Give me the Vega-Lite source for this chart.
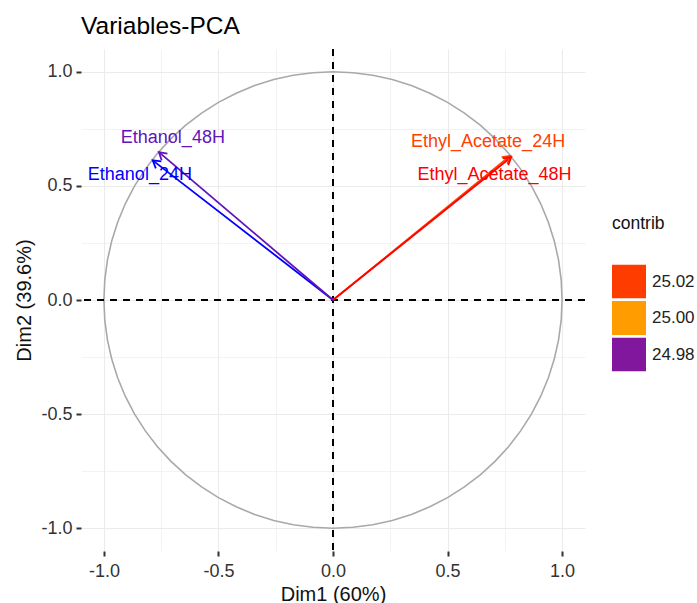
{
  "$schema": "https://vega.github.io/schema/vega-lite/v6.json",
  "width": 504,
  "height": 502,
  "autosize": {"type": "none"},
  "padding": {"left": 81, "top": 49, "right": 112, "bottom": 52},
  "background": "white",
  "config": {"font": "Liberation Sans", "view": {"stroke": null}},
  "title": {"text": "Variables-PCA", "anchor": "start", "frame": "group", "fontSize": 24.5, "fontWeight": "normal", "color": "#000000", "offset": 9},
  "datasets": {
    "vars": [
      {"name": "Ethanol_24H", "x": -0.787, "y": 0.612, "contrib": 24.962, "lx": -0.843, "ly": 0.548},
      {"name": "Ethanol_48H", "x": -0.760, "y": 0.648, "contrib": 24.975, "lx": -0.699, "ly": 0.711},
      {"name": "Ethyl_Acetate_24H", "x": 0.774, "y": 0.632, "contrib": 25.019, "lx": 0.677, "ly": 0.693},
      {"name": "Ethyl_Acetate_48H", "x": 0.778, "y": 0.626, "contrib": 25.044, "lx": 0.705, "ly": 0.550}
    ],
    "circle": [
      {"i": 0, "cx": 1, "cy": 0}, {"i": 5, "cx": 0.99619, "cy": 0.08716}, {"i": 10, "cx": 0.98481, "cy": 0.17365},
      {"i": 15, "cx": 0.96593, "cy": 0.25882}, {"i": 20, "cx": 0.93969, "cy": 0.34202}, {"i": 25, "cx": 0.90631, "cy": 0.42262},
      {"i": 30, "cx": 0.86603, "cy": 0.5}, {"i": 35, "cx": 0.81915, "cy": 0.57358}, {"i": 40, "cx": 0.76604, "cy": 0.64279},
      {"i": 45, "cx": 0.70711, "cy": 0.70711}, {"i": 50, "cx": 0.64279, "cy": 0.76604}, {"i": 55, "cx": 0.57358, "cy": 0.81915},
      {"i": 60, "cx": 0.5, "cy": 0.86603}, {"i": 65, "cx": 0.42262, "cy": 0.90631}, {"i": 70, "cx": 0.34202, "cy": 0.93969},
      {"i": 75, "cx": 0.25882, "cy": 0.96593}, {"i": 80, "cx": 0.17365, "cy": 0.98481}, {"i": 85, "cx": 0.08716, "cy": 0.99619},
      {"i": 90, "cx": 0, "cy": 1}, {"i": 95, "cx": -0.08716, "cy": 0.99619}, {"i": 100, "cx": -0.17365, "cy": 0.98481},
      {"i": 105, "cx": -0.25882, "cy": 0.96593}, {"i": 110, "cx": -0.34202, "cy": 0.93969}, {"i": 115, "cx": -0.42262, "cy": 0.90631},
      {"i": 120, "cx": -0.5, "cy": 0.86603}, {"i": 125, "cx": -0.57358, "cy": 0.81915}, {"i": 130, "cx": -0.64279, "cy": 0.76604},
      {"i": 135, "cx": -0.70711, "cy": 0.70711}, {"i": 140, "cx": -0.76604, "cy": 0.64279}, {"i": 145, "cx": -0.81915, "cy": 0.57358},
      {"i": 150, "cx": -0.86603, "cy": 0.5}, {"i": 155, "cx": -0.90631, "cy": 0.42262}, {"i": 160, "cx": -0.93969, "cy": 0.34202},
      {"i": 165, "cx": -0.96593, "cy": 0.25882}, {"i": 170, "cx": -0.98481, "cy": 0.17365}, {"i": 175, "cx": -0.99619, "cy": 0.08716},
      {"i": 180, "cx": -1, "cy": 0}, {"i": 185, "cx": -0.99619, "cy": -0.08716}, {"i": 190, "cx": -0.98481, "cy": -0.17365},
      {"i": 195, "cx": -0.96593, "cy": -0.25882}, {"i": 200, "cx": -0.93969, "cy": -0.34202}, {"i": 205, "cx": -0.90631, "cy": -0.42262},
      {"i": 210, "cx": -0.86603, "cy": -0.5}, {"i": 215, "cx": -0.81915, "cy": -0.57358}, {"i": 220, "cx": -0.76604, "cy": -0.64279},
      {"i": 225, "cx": -0.70711, "cy": -0.70711}, {"i": 230, "cx": -0.64279, "cy": -0.76604}, {"i": 235, "cx": -0.57358, "cy": -0.81915},
      {"i": 240, "cx": -0.5, "cy": -0.86603}, {"i": 245, "cx": -0.42262, "cy": -0.90631}, {"i": 250, "cx": -0.34202, "cy": -0.93969},
      {"i": 255, "cx": -0.25882, "cy": -0.96593}, {"i": 260, "cx": -0.17365, "cy": -0.98481}, {"i": 265, "cx": -0.08716, "cy": -0.99619},
      {"i": 270, "cx": 0, "cy": -1}, {"i": 275, "cx": 0.08716, "cy": -0.99619}, {"i": 280, "cx": 0.17365, "cy": -0.98481},
      {"i": 285, "cx": 0.25882, "cy": -0.96593}, {"i": 290, "cx": 0.34202, "cy": -0.93969}, {"i": 295, "cx": 0.42262, "cy": -0.90631},
      {"i": 300, "cx": 0.5, "cy": -0.86603}, {"i": 305, "cx": 0.57358, "cy": -0.81915}, {"i": 310, "cx": 0.64279, "cy": -0.76604},
      {"i": 315, "cx": 0.70711, "cy": -0.70711}, {"i": 320, "cx": 0.76604, "cy": -0.64279}, {"i": 325, "cx": 0.81915, "cy": -0.57358},
      {"i": 330, "cx": 0.86603, "cy": -0.5}, {"i": 335, "cx": 0.90631, "cy": -0.42262}, {"i": 340, "cx": 0.93969, "cy": -0.34202},
      {"i": 345, "cx": 0.96593, "cy": -0.25882}, {"i": 350, "cx": 0.98481, "cy": -0.17365}, {"i": 355, "cx": 0.99619, "cy": -0.08716},
      {"i": 360, "cx": 1, "cy": 0}
    ]
  },
  "layer": [
    {
      "data": {"name": "circle"},
      "mark": {"type": "line", "color": "#a9a9a9", "strokeWidth": 1.6},
      "encoding": {
        "x": {
          "field": "cx", "type": "quantitative", "title": "Dim1 (60%)",
          "scale": {"domain": [-1.1, 1.1], "nice": false, "zero": false},
          "axis": {
            "values": [-1, -0.75, -0.5, -0.25, 0, 0.25, 0.5, 0.75, 1],
            "format": ".1f",
            "labelExpr": "abs(datum.value % 0.5) < 0.001 ? replace(datum.label, '\u2212', '-') : ''",
            "titleFontSize": 20, "titleFontWeight": "normal", "titleColor": "#111111", "titlePadding": 4,
            "labelFontSize": 18, "labelColor": "#333333", "labelPadding": 6, "labelFlush": false, "labelOverlap": false,
            "tickSize": 5, "tickWidth": 2, "tickColor": "#333333",
            "tickOpacity": {"condition": {"test": "abs(datum.value % 0.5) < 0.001", "value": 1}, "value": 0},
            "grid": true, "gridColor": "#ebebeb",
            "gridWidth": {"condition": {"test": "abs(datum.value % 0.5) < 0.001", "value": 1.1}, "value": 0.6},
            "domain": false
          }
        },
        "y": {
          "field": "cy", "type": "quantitative", "title": "Dim2 (39.6%)",
          "scale": {"domain": [-1.1, 1.1], "nice": false, "zero": false},
          "axis": {
            "values": [-1, -0.75, -0.5, -0.25, 0, 0.25, 0.5, 0.75, 1],
            "format": ".1f",
            "labelExpr": "abs(datum.value % 0.5) < 0.001 ? replace(datum.label, '\u2212', '-') : ''",
            "titleFontSize": 20, "titleFontWeight": "normal", "titleColor": "#111111", "titlePadding": 6,
            "labelFontSize": 18, "labelColor": "#333333", "labelPadding": 4, "labelFlush": false, "labelOverlap": false,
            "tickSize": 5, "tickWidth": 2, "tickColor": "#333333",
            "tickOpacity": {"condition": {"test": "abs(datum.value % 0.5) < 0.001", "value": 1}, "value": 0},
            "grid": true, "gridColor": "#ebebeb",
            "gridWidth": {"condition": {"test": "abs(datum.value % 0.5) < 0.001", "value": 1.1}, "value": 0.6},
            "domain": false
          }
        },
        "order": {"field": "i", "type": "quantitative"}
      }
    },
    {
      "data": {"values": [{}]},
      "mark": {"type": "rule", "color": "#000000", "strokeWidth": 2, "strokeDash": [7, 6]},
      "encoding": {"y": {"datum": 0, "type": "quantitative", "title": "Dim2 (39.6%)"}}
    },
    {
      "data": {"values": [{}]},
      "mark": {"type": "rule", "color": "#000000", "strokeWidth": 2, "strokeDash": [7, 6]},
      "encoding": {"x": {"datum": 0, "type": "quantitative", "title": "Dim1 (60%)"}}
    },
    {
      "data": {"name": "vars"},
      "mark": {"type": "rule", "strokeWidth": 1.8},
      "encoding": {
        "x": {"field": "x", "type": "quantitative", "title": "Dim1 (60%)"},
        "y": {"field": "y", "type": "quantitative", "title": "Dim2 (39.6%)"},
        "x2": {"datum": 0},
        "y2": {"datum": 0},
        "color": {
          "field": "contrib", "type": "quantitative", "title": "contrib",
          "scale": {
            "domain": [24.962, 25.044],
            "range": ["#0000ff", "#3a0ce0", "#7015b0", "#9a1a80", "#c8303c", "#ffa000", "#ff7800", "#ff5200", "#ff3600", "#ff1c00", "#ff0c00", "#ff0000"],
            "interpolate": "rgb"
          },
          "legend": {
            "type": "symbol", "orient": "none", "legendX": 531, "legendY": 166,
            "values": [25.02, 25.0, 24.98], "format": ".2f",
            "symbolType": "square", "symbolSize": 289, "symbolStrokeWidth": 17, "symbolOpacity": 1,
            "clipHeight": 34, "rowPadding": 2.5, "labelOffset": 6,
            "labelFontSize": 17, "labelColor": "#222222",
            "titleFontSize": 17.5, "titleFontWeight": "normal", "titleColor": "#111111", "titlePadding": 32
          }
        }
      }
    },
    {
      "data": {"name": "vars"},
      "transform": [{"calculate": "-atan2(datum.y, datum.x) * 180 / PI", "as": "ang"}],
      "mark": {"type": "point", "shape": "M-1,-0.6L0,0L-1,0.6", "filled": false, "strokeWidth": 1.8, "size": 220, "opacity": 1},
      "encoding": {
        "x": {"field": "x", "type": "quantitative", "title": "Dim1 (60%)"},
        "y": {"field": "y", "type": "quantitative", "title": "Dim2 (39.6%)"},
        "angle": {"field": "ang", "type": "quantitative", "scale": null},
        "color": {"field": "contrib", "type": "quantitative", "title": "contrib", "legend": null}
      }
    },
    {
      "data": {"name": "vars"},
      "mark": {"type": "text", "fontSize": 18, "align": "center", "baseline": "middle"},
      "encoding": {
        "x": {"field": "lx", "type": "quantitative", "title": "Dim1 (60%)"},
        "y": {"field": "ly", "type": "quantitative", "title": "Dim2 (39.6%)"},
        "text": {"field": "name"},
        "color": {"field": "contrib", "type": "quantitative", "title": "contrib", "legend": null}
      }
    }
  ]
}
